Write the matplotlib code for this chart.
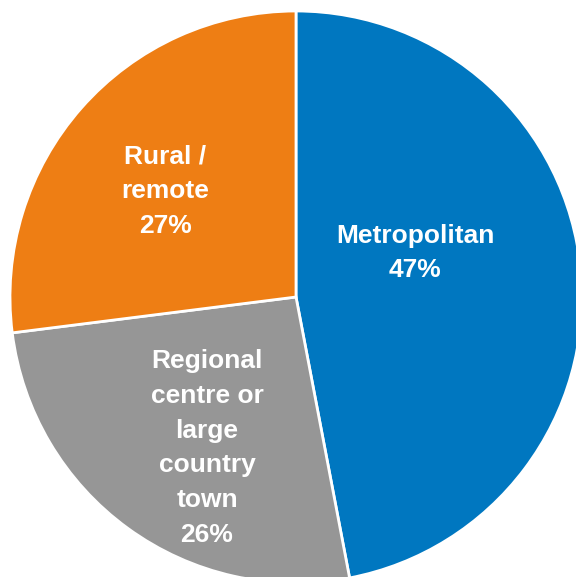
import matplotlib.pyplot as plt

labels = ['Metropolitan', 'Regional\ncentre or\nlarge\ncountry\ntown', 'Rural /\nremote']
shares = [47, 26, 27]
colors = ['#0077c0', '#969696', '#ee7e14']

# where each label sits inside its wedge (data units, pie radius = 1)
label_pos = [(0.416, 0.154), (-0.311, -0.528), (-0.458, 0.371)]

plt.rcParams['font.family'] = ['Liberation Sans', 'DejaVu Sans']

fig = plt.figure(figsize=(5.76, 5.77), dpi=100)
ax = fig.add_axes([0, 0, 1, 1])

ax.pie(shares, colors=colors, startangle=90, counterclock=False,
       radius=1.0, wedgeprops=dict(edgecolor='white', linewidth=2))

for lab, val, (x, y) in zip(labels, shares, label_pos):
    ax.text(x, y, '%s\n%d%%' % (lab, val), ha='center', va='center',
            color='white', fontsize=19, fontweight='bold', linespacing=1.56)

cx, cy, r = 296, 297, 286
ax.set_aspect('auto')
ax.set_xlim(-cx / r, (576 - cx) / r)
ax.set_ylim(-(577 - cy) / r, cy / r)
ax.axis('off')

plt.savefig('out.png', dpi=100)
